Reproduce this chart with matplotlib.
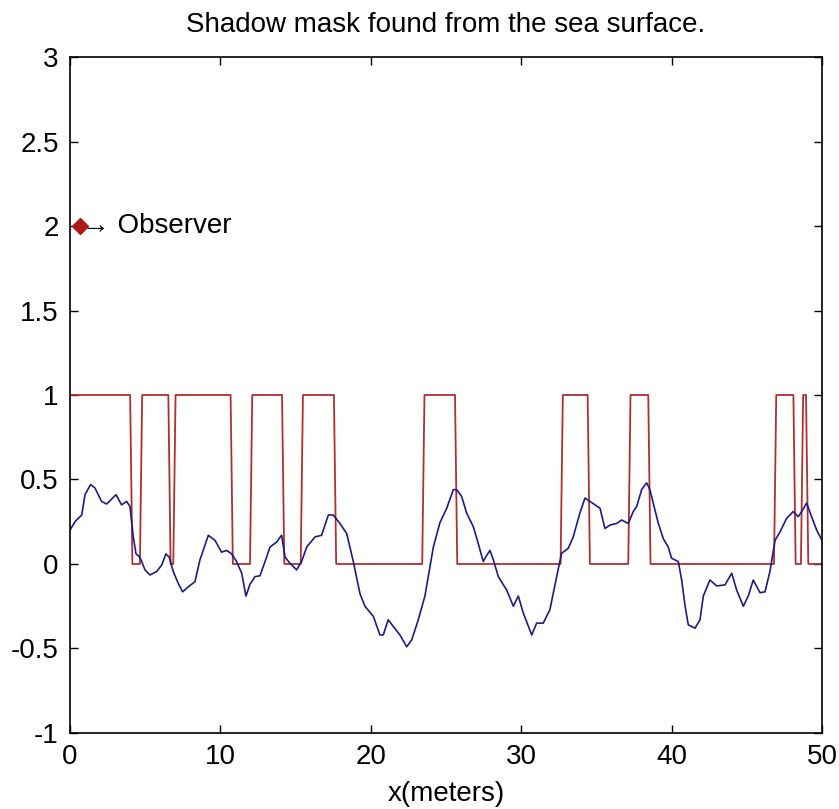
import matplotlib
matplotlib.use("Agg")
import matplotlib.pyplot as plt

# sea surface profile
surface_x = [0.0, 0.33, 0.78, 1.0, 1.37, 1.66, 2.1, 2.44, 3.06, 3.43, 3.77, 3.99,
             4.21, 4.39, 4.65, 4.99, 5.32, 5.76, 6.1, 6.38, 6.6, 6.87, 7.2, 7.49,
             7.87, 8.31, 8.64, 9.2, 9.64, 10.08, 10.42, 10.75, 11.08, 11.42, 11.7,
             11.97, 12.3, 12.63, 12.97, 13.3, 13.74, 14.07, 14.3, 14.63, 15.07,
             15.4, 15.74, 16.29, 16.73, 17.18, 17.5, 17.95, 18.4, 18.84, 19.28,
             19.61, 20.17, 20.61, 20.83, 21.16, 21.5, 21.94, 22.39, 22.72, 23.16,
             23.6, 24.16, 24.6, 25.05, 25.49, 25.71, 26.04, 26.38, 26.82, 27.15,
             27.48, 27.7, 27.93, 28.15, 28.48, 29.04, 29.48, 29.81, 30.14, 30.7,
             31.03, 31.47, 31.91, 32.36, 32.69, 33.13, 33.46, 33.9, 34.24, 34.9,
             35.24, 35.57, 35.9, 36.35, 36.68, 37.12, 37.45, 37.68, 38.01, 38.34,
             38.56, 38.78, 39.12, 39.45, 39.78, 40.0, 40.45, 40.67, 40.9, 41.11,
             41.56, 41.89, 42.11, 42.55, 43.0, 43.55, 44.0, 44.33, 44.77, 45.1,
             45.43, 45.88, 46.21, 46.54, 46.88, 47.21, 47.65, 48.09, 48.42, 48.65,
             48.98, 49.31, 49.65, 50.0]
surface_h = [0.20, 0.25, 0.29, 0.41, 0.47, 0.45, 0.37, 0.355, 0.41, 0.35, 0.37, 0.34,
             0.16, 0.06, 0.04, -0.035, -0.065, -0.045, -0.006, 0.06, 0.04, -0.045,
             -0.115, -0.165, -0.135, -0.105, 0.024, 0.17, 0.14, 0.07, 0.08, 0.06,
             0.014, -0.055, -0.19, -0.12, -0.075, -0.07, 0.014, 0.10, 0.13, 0.17,
             0.04, 0.004, -0.035, 0.014, 0.10, 0.16, 0.17, 0.29, 0.29, 0.24, 0.18,
             0.014, -0.175, -0.25, -0.31, -0.42, -0.42, -0.33, -0.37, -0.42, -0.49,
             -0.45, -0.33, -0.19, 0.10, 0.245, 0.33, 0.44, 0.44, 0.40, 0.30, 0.22,
             0.12, 0.014, 0.05, 0.08, 0.024, -0.075, -0.155, -0.25, -0.19, -0.29,
             -0.42, -0.35, -0.35, -0.27, -0.075, 0.063, 0.093, 0.16, 0.30, 0.39,
             0.35, 0.33, 0.21, 0.23, 0.24, 0.26, 0.24, 0.31, 0.34, 0.44, 0.48, 0.44,
             0.36, 0.24, 0.15, 0.10, 0.034, 0.014, -0.095, -0.25, -0.36, -0.38,
             -0.33, -0.19, -0.095, -0.13, -0.124, -0.055, -0.155, -0.25, -0.19,
             -0.095, -0.17, -0.165, -0.045, 0.14, 0.19, 0.27, 0.31, 0.28, 0.31,
             0.36, 0.28, 0.20, 0.14]

# lit stretches of the surface (mask = 1), start and end in meters
lit_start = [0.0, 4.65, 6.87, 11.97, 15.34, 23.42, 32.62, 37.12, 46.81, 48.6]
lit_end = [4.0, 6.54, 10.68, 14.1, 17.55, 25.6, 34.42, 38.45, 48.1, 48.94]
x_max = 50.0
step_dx = 0.15

observer_x = 0.65
observer_h = 2.0

x_ticks = [0, 10, 20, 30, 40, 50]
y_ticks = [-1, -0.5, 0, 0.5, 1, 1.5, 2, 2.5, 3]
y_tick_labels = ["-1", "-0.5", "0", "0.5", "1", "1.5", "2", "2.5", "3"]


def mask_line(starts, ends, end_x, dx):
    # 1 on the lit stretches, 0 elsewhere, each edge spread over one sample
    xs = [0.0]
    ys = [1.0 if starts[0] <= 0 else 0.0]
    for s, e in zip(starts, ends):
        if s > 0:
            xs += [s, s + dx]
            ys += [0.0, 1.0]
        xs += [e, e + dx]
        ys += [1.0, 0.0]
    xs.append(end_x)
    ys.append(0.0)
    return xs, ys


plt.rcParams["font.family"] = ["Liberation Sans", "DejaVu Sans"]
plt.rcParams["font.size"] = 20

fig = plt.figure(figsize=(8.39, 8.09), dpi=100)
ax = fig.add_axes([0.0834, 0.094, 0.8963, 0.8355])

mx, my = mask_line(lit_start, lit_end, x_max, step_dx)
ax.plot(mx, my, color="#b03030", lw=1.3)
ax.plot(surface_x, surface_h, color="#1c1c86", lw=1.2)
ax.plot([observer_x], [observer_h], marker="D", ms=8, color="#b01818", mec="#b01818")
ax.text(observer_x + 0.15, observer_h, "\u2192 Observer", ha="left", va="center", fontsize=20)

ax.set_xlim(0, 50)
ax.set_ylim(-1, 3)
ax.set_xticks(x_ticks)
ax.set_yticks(y_ticks)
ax.set_yticklabels(y_tick_labels)
ax.tick_params(direction="in", length=6, width=1, top=True, right=True, pad=8, labelsize=20)
for sp in ax.spines.values():
    sp.set_linewidth(1.2)

ax.set_title("Shadow mask found from the sea surface.", fontsize=20, pad=18)
ax.set_xlabel("x(meters)", fontsize=20, labelpad=8)

fig.savefig("out.png", dpi=100)
